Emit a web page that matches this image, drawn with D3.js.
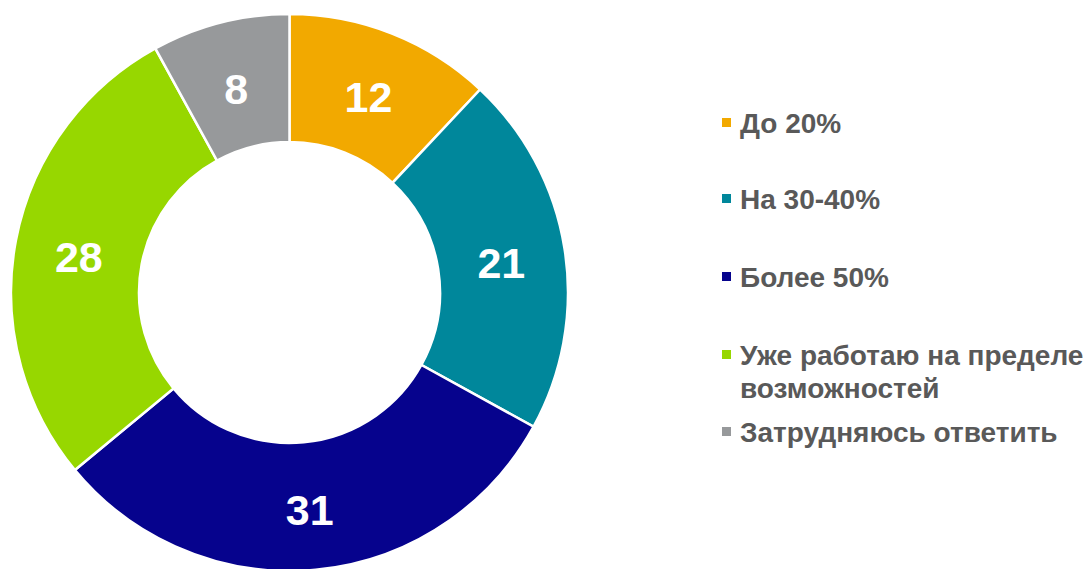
<!DOCTYPE html>
<html>
<head>
  <meta charset="UTF-8">
  <title>Donut</title>
  <script src="https://d3js.org/d3.v7.min.js"></script>
  <style>
    body { margin: 0; background: #fff; }
    svg { display: block; font-family: Arial, "Liberation Sans", sans-serif; }
  </style>
</head>
<body>
<svg></svg>
<script>
  let width = 1088,
    height = 569;

  let categories = ["До 20%", "На 30-40%", "Более 50%", "Уже работаю на пределе возможностей", "Затрудняюсь ответить"];
  let legendLines = [["До 20%"], ["На 30-40%"], ["Более 50%"], ["Уже работаю на пределе", "возможностей"], ["Затрудняюсь ответить"]];
  let values = [12, 21, 31, 28, 8];
  let colors = ["#F2A900", "#00879B", "#06038D", "#97D700", "#97999B"];

  let svg = d3.select("svg")
    .attr("width", width)
    .attr("height", height);

  let cx = 289.5, cy = 292.5, rOuter = 278.5, rInner = 150.5;

  let pie = d3.pie().sort(null).value(d => d);
  let arc = d3.arc().innerRadius(rInner).outerRadius(rOuter);

  let color = d3.scaleOrdinal().domain(categories).range(colors);

  let g = svg.append("g").attr("transform", "translate(" + cx + "," + cy + ")");

  let arcs = pie(values);

  g.selectAll("path")
    .data(arcs)
    .enter()
    .append("path")
    .attr("d", arc)
    .attr("fill", (d, i) => color(categories[i]))
    .attr("stroke", "#fff")
    .attr("stroke-width", 2.5);

  g.selectAll("text")
    .data(arcs)
    .enter()
    .append("text")
    .attr("transform", d => "translate(" + arc.centroid(d) + ")")
    .attr("text-anchor", "middle")
    .attr("dy", "0.45em")
    .attr("fill", "#fff")
    .attr("font-weight", "bold")
    .attr("font-size", 43)
    .text(d => d.data);

  // legend
  let legendY = [133, 209, 287, 365, 442];
  let legend = svg.append("g");

  legendLines.forEach((lines, i) => {
    let row = legend.append("g").attr("transform", "translate(722," + legendY[i] + ")");
    row.append("rect")
      .attr("x", 0)
      .attr("y", -15)
      .attr("width", 9)
      .attr("height", 9)
      .attr("fill", colors[i]);
    lines.forEach((t, j) => {
      row.append("text")
        .attr("x", 18)
        .attr("y", j * 33)
        .attr("fill", "#595959")
        .attr("font-weight", "bold")
        .attr("font-size", 28)
        .text(t);
    });
  });
</script>
</body>
</html>
